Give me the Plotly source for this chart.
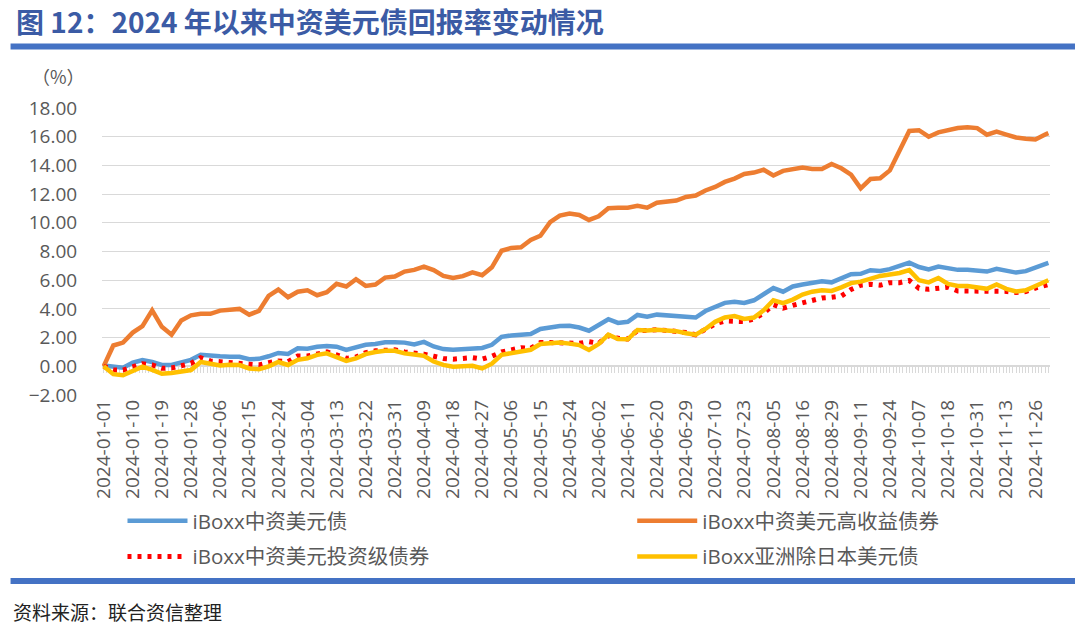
import pandas as pd
import plotly.graph_objects as go

# ---------------- data ----------------
# category axis: daily until end of June, business days afterwards
dates = ([d.strftime("%Y-%m-%d") for d in pd.date_range("2024-01-01", "2024-06-30", freq="D")] +
         [d.strftime("%Y-%m-%d") for d in pd.bdate_range("2024-07-01", "2024-12-02")])
sample_dates = dates[0::3] + [dates[-1]]

tick_labels = ["2024-01-01", "2024-01-10", "2024-01-19", "2024-01-28", "2024-02-06", "2024-02-15",
               "2024-02-24", "2024-03-04", "2024-03-13", "2024-03-22", "2024-03-31", "2024-04-09",
               "2024-04-18", "2024-04-27", "2024-05-06", "2024-05-15", "2024-05-24", "2024-06-02",
               "2024-06-11", "2024-06-20", "2024-06-29", "2024-07-10", "2024-07-23", "2024-08-05",
               "2024-08-16", "2024-08-29", "2024-09-11", "2024-09-24", "2024-10-07", "2024-10-18",
               "2024-10-31", "2024-11-13", "2024-11-26"]

iboxx_china = [0.05, -0.05, -0.10, 0.25, 0.44, 0.30, 0.09, 0.09, 0.30, 0.45,
               0.80, 0.72, 0.70, 0.67, 0.66, 0.50, 0.52, 0.70, 0.93, 0.86,
               1.25, 1.22, 1.36, 1.42, 1.37, 1.14, 1.30, 1.50, 1.55, 1.68,
               1.68, 1.65, 1.52, 1.70, 1.38, 1.20, 1.15, 1.20, 1.20, 1.28,
               1.50, 2.05, 2.15, 2.20, 2.25, 2.60, 2.72, 2.80, 2.82, 2.70,
               2.48, 2.90, 3.28, 3.02, 3.10, 3.58, 3.45, 3.60, 3.56, 3.55,
               3.50, 3.40, 3.85, 4.15, 4.42, 4.50, 4.42, 4.60, 5.00, 5.45,
               5.20, 5.56, 5.70, 5.80, 5.92, 5.85, 6.10, 6.42, 6.45, 6.70,
               6.65, 6.77, 7.00, 7.22, 6.92, 6.75, 6.95, 6.84, 6.72, 6.72,
               6.65, 6.60, 6.80, 6.65, 6.53, 6.63, 6.85, 7.15, 7.20]

iboxx_china_hy = [0.00, 1.45, 1.65, 2.35, 2.80, 3.90, 2.75, 2.20, 3.20, 3.55,
                  3.66, 3.66, 3.88, 3.94, 4.00, 3.60, 3.86, 4.90, 5.35, 4.81,
                  5.20, 5.30, 4.95, 5.16, 5.75, 5.56, 6.07, 5.60, 5.70, 6.18,
                  6.25, 6.60, 6.72, 6.95, 6.70, 6.30, 6.15, 6.28, 6.55, 6.35,
                  6.90, 8.05, 8.25, 8.30, 8.80, 9.10, 10.05, 10.50, 10.65, 10.55,
                  10.20, 10.45, 11.02, 11.05, 11.05, 11.18, 11.05, 11.40, 11.45, 11.55,
                  11.80, 11.90, 12.25, 12.50, 12.85, 13.08, 13.40, 13.50, 13.70, 13.30,
                  13.62, 13.72, 13.85, 13.75, 13.75, 14.10, 13.80, 13.35, 12.40, 13.05,
                  13.10, 13.65, 15.10, 16.40, 16.45, 16.00, 16.30, 16.45, 16.60, 16.66,
                  16.60, 16.14, 16.35, 16.15, 15.95, 15.86, 15.80, 16.15, 16.25]

iboxx_china_ig = [0.00, -0.25, -0.26, -0.05, 0.18, 0.10, -0.14, -0.12, 0.00, 0.20,
                  0.60, 0.37, 0.32, 0.25, 0.20, 0.12, 0.09, 0.25, 0.37, 0.32,
                  0.72, 0.72, 0.90, 1.00, 0.80, 0.55, 0.65, 0.95, 1.08, 1.15,
                  1.15, 1.00, 0.95, 0.85, 0.70, 0.55, 0.50, 0.55, 0.60, 0.50,
                  0.70, 1.00, 1.18, 1.30, 1.25, 1.65, 1.65, 1.65, 1.62, 1.60,
                  1.72, 1.60, 2.15, 1.95, 1.90, 2.50, 2.50, 2.55, 2.50, 2.45,
                  2.35, 2.20, 2.60, 2.95, 3.16, 3.12, 3.11, 3.30, 3.70, 4.30,
                  4.05, 4.25, 4.44, 4.63, 4.76, 4.81, 4.90, 5.35, 5.65, 5.72,
                  5.65, 5.83, 5.83, 5.98, 5.44, 5.37, 5.44, 5.51, 5.25, 5.25,
                  5.22, 5.30, 5.30, 5.22, 5.14, 5.21, 5.45, 5.67, 5.70]

iboxx_asia_xjp = [0.00, -0.55, -0.62, -0.35, -0.03, -0.25, -0.52, -0.46, -0.37, -0.26,
                  0.30, 0.20, 0.05, 0.10, 0.09, -0.15, -0.20, 0.00, 0.30, 0.09,
                  0.45, 0.56, 0.80, 0.90, 0.65, 0.38, 0.55, 0.85, 1.00, 1.08,
                  1.08, 0.90, 0.82, 0.73, 0.33, 0.10, -0.03, 0.02, 0.03, -0.15,
                  0.18, 0.80, 0.92, 1.00, 1.15, 1.55, 1.62, 1.65, 1.58, 1.48,
                  1.14, 1.55, 2.20, 1.90, 1.88, 2.53, 2.50, 2.55, 2.50, 2.45,
                  2.30, 2.20, 2.60, 3.10, 3.40, 3.50, 3.30, 3.40, 3.90, 4.60,
                  4.40, 4.65, 5.00, 5.20, 5.30, 5.25, 5.50, 5.80, 5.90, 6.14,
                  6.30, 6.40, 6.50, 6.70, 6.00, 5.85, 6.15, 5.74, 5.60, 5.60,
                  5.51, 5.40, 5.70, 5.40, 5.22, 5.30, 5.60, 5.95, 6.00]

series_names = ["iBoxx中资美元债", "iBoxx中资美元高收益债券", "iBoxx中资美元投资级债券", "iBoxx亚洲除日本美元债"]

y_range = [-2, 18]
y_ticks = list(range(-2, 19, 2))

# ---------------- layout helpers (pixel -> paper) ----------------
W, H = 1080, 629
L, R, T, B = 101.5, 1050, 108, 395


def px(x):
    return (x - L) / (R - L)


def py(y):
    return (B - y) / (B - T)


GRAY = "#595959"
LATIN = "Open Sans, Noto Sans CJK SC, sans-serif"

fig = go.Figure()

styles = [
    dict(color="#5B9BD5", width=4.5),
    dict(color="#ED7D31", width=4.5),
    dict(color="#FF0000", width=5, dash="4px,6px"),
    dict(color="#FFC000", width=4.5),
]
values = [iboxx_china, iboxx_china_hy, iboxx_china_ig, iboxx_asia_xjp]
legends = ["legend", "legend2", "legend", "legend2"]

for name, vals, st, lg in zip(series_names, values, styles, legends):
    fig.add_trace(go.Scatter(x=sample_dates, y=vals, mode="lines", name=name, line=st,
                             legend=lg, legendgroup=name, hoverinfo="skip"))

# invisible trace on the zero-line category axis (carries the dense tick marks)
fig.add_trace(go.Scatter(x=sample_dates, y=iboxx_china, xaxis="x2", mode="lines",
                         line=dict(width=0), opacity=0, showlegend=False, hoverinfo="skip"))

n = len(dates)
zero_pos = (0 - y_range[0]) / (y_range[1] - y_range[0])

fig.update_layout(
    width=W, height=H,
    margin=dict(l=L, r=W - R, t=T, b=H - B),
    paper_bgcolor="white", plot_bgcolor="white",
    showlegend=True,
    xaxis=dict(type="category", categoryorder="array", categoryarray=dates,
               range=[-0.5, n - 0.5], tickmode="array", tickvals=tick_labels, ticktext=tick_labels,
               tickangle=-90, showgrid=False, showline=False, zeroline=False, ticks="",
               tickfont=dict(family=LATIN, size=19, color=GRAY)),
    xaxis2=dict(type="category", categoryorder="array", categoryarray=dates, overlaying="x",
                anchor="free", position=zero_pos, range=[-0.5, n - 0.5],
                tickmode="linear", tick0=0, dtick=1, ticks="outside", ticklen=6, tickwidth=1,
                tickcolor="#D9D9D9", showline=True, linecolor="#D9D9D9", linewidth=1.5,
                showticklabels=False, showgrid=False, layer="below traces"),
    yaxis=dict(range=y_range, tickvals=y_ticks, tickformat=".2f", showgrid=True,
               gridcolor="#D9D9D9", gridwidth=1.3, zeroline=False, showline=False,
               ticks="outside", ticklen=20, tickcolor="rgba(0,0,0,0)",
               tickfont=dict(family=LATIN, size=19, color=GRAY)),
    legend=dict(x=px(122), y=py(501), xanchor="left", yanchor="top", orientation="v",
                itemwidth=60, tracegroupgap=6, bgcolor="rgba(0,0,0,0)",
                font=dict(family=LATIN, size=20.5, color=GRAY)),
    legend2=dict(x=px(632), y=py(501), xanchor="left", yanchor="top", orientation="v",
                 itemwidth=60, tracegroupgap=6, bgcolor="rgba(0,0,0,0)",
                 font=dict(family=LATIN, size=20.5, color=GRAY)),
    shapes=[
        dict(type="rect", xref="paper", yref="paper", x0=px(10), x1=px(1075), y0=py(49.5), y1=py(43.5),
             fillcolor="#4472C4", line=dict(width=0)),
        dict(type="rect", xref="paper", yref="paper", x0=px(10), x1=px(1075), y0=py(584), y1=py(578),
             fillcolor="#4472C4", line=dict(width=0)),
    ],
    annotations=[
        dict(text="<b>图 12：2024 年以来中资美元债回报率变动情况</b>", xref="paper", yref="paper",
             x=px(13), y=py(21), xanchor="left", yanchor="middle", showarrow=False,
             font=dict(family="Noto Sans CJK SC", size=28, color="#3B5BA5")),
        dict(text="（%）", xref="paper", yref="paper", x=px(58), y=py(76), xanchor="center",
             yanchor="middle", showarrow=False,
             font=dict(family="Noto Sans CJK SC", size=18, color=GRAY)),
        dict(text="资料来源：联合资信整理", xref="paper", yref="paper", x=px(10), y=py(611),
             xanchor="left", yanchor="middle", showarrow=False,
             font=dict(family="Noto Sans CJK SC", size=19, color="#222222")),
    ],
)

fig.write_html("out.html")
